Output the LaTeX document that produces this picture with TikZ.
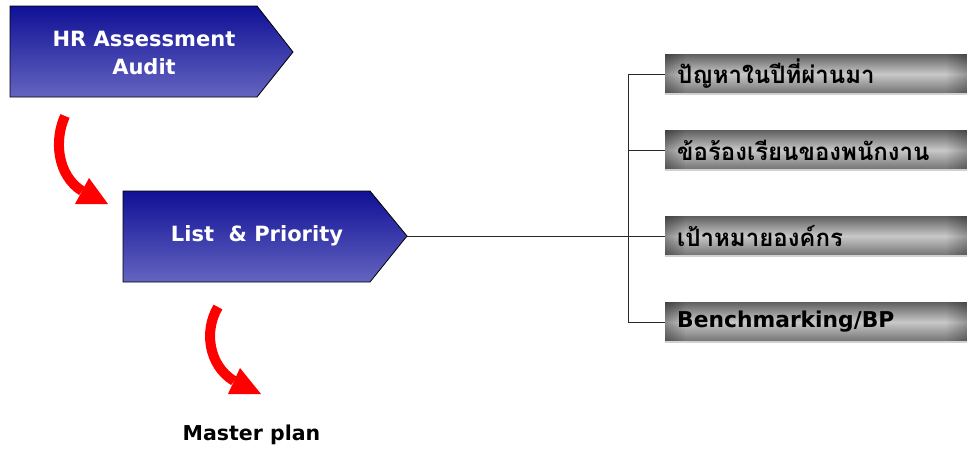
\documentclass[tikz,border=0pt]{standalone}
\usepackage{fontspec}
\setmainfont{DejaVu Sans}
\newfontfamily\thaifont[Script=Thai]{Loma}
\definecolor{navytop}{RGB}{16,16,150}
\definecolor{navybot}{RGB}{100,100,192}
\definecolor{redarr}{RGB}{255,0,0}
\definecolor{greytop}{RGB}{95,95,95}
\definecolor{greymid}{RGB}{200,200,200}
\definecolor{greybot}{RGB}{112,112,112}
\definecolor{connc}{RGB}{40,40,40}
\begin{document}
\begin{tikzpicture}[x=1pt,y=-1pt,
  bluebox/.style={draw=black, line width=0.8pt, top color=navytop, bottom color=navybot},
  bluetext/.style={text=white, font=\fontsize{21}{28}\selectfont\bfseries, align=center, inner sep=0pt},
  greybox/.style={rectangle, inner sep=0pt, inner xsep=12pt, minimum height=40pt, text width=278pt, align=left,
    top color=greytop, bottom color=greybot, middle color=greymid, anchor=west,
    font=\fontsize{21.8}{24}\selectfont\bfseries,
    path picture={
      \foreach \i in {0,...,9}{
        \pgfmathsetmacro\xa{2*\i}
        \pgfmathsetmacro\xb{2*\i+2}
        \pgfmathsetmacro\oa{0.30-0.03*\i}
        \pgfmathsetmacro\ob{0.24-0.024*\i}
        \fill[black, fill opacity=\oa]
          ([xshift=\xa pt]path picture bounding box.south west) rectangle
          ([xshift=\xb pt]path picture bounding box.north west);
        \fill[black, fill opacity=\ob]
          ([xshift=-\xa pt]path picture bounding box.south east) rectangle
          ([xshift=-\xb pt]path picture bounding box.north east);
      }
      \draw[white!82!black, line width=1.2pt] (path picture bounding box.south west) -- (path picture bounding box.south east);}},
  thai/.style={font=\fontsize{24}{26}\selectfont\bfseries\thaifont},
  conn/.style={draw=connc, line width=0.9pt},
  shaft/.style={draw=redarr, line width=10pt, line cap=butt},
  head/.style={fill=redarr}
]
\useasboundingbox (0,0) rectangle (967,451);

% blue boxes
\draw[bluebox] (10,6) -- (257,6) -- (293,52) -- (257,97) -- (10,97) -- cycle;
\node[bluetext] (hr) at (144,53) {HR Assessment\\Audit};
\draw[bluebox] (123,191) -- (370,191) -- (407,236) -- (370,282) -- (123,282) -- cycle;
\node[bluetext] (lp) at (257,236) {List \ \& Priority};
\coordinate (tip2) at (407,236);

% grey boxes
\node[greybox, thai] (g1) at (665,74) {ปัญหาในปีที่ผ่านมา};
\node[greybox, thai] (g2) at (665,150) {ข้อร้องเรียนของพนักงาน};
\node[greybox, thai] (g3) at (665,236) {เป้าหมายองค์กร};
\node[greybox] (g4) at (665,322) {Benchmarking/BP};

% connectors
\coordinate (trunk) at (628,236);
\draw[conn] (tip2) -- (g3.west);
\draw[conn] (g1.west) -| (trunk |- g4.west) -- (g4.west);
\draw[conn] (trunk |- g2.west) -- (g2.west);

% red arrows
\draw[shaft] (65,116) .. controls (54,140) and (57,175) .. (82,191);
\fill[head] (89,178) -- (108,204) -- (75,204) -- cycle;
\draw[shaft] (218,307) .. controls (204,330) and (208,365) .. (234,381);
\fill[head] (240,368) -- (261,394) -- (228,394) -- cycle;

% master plan
\node[font=\fontsize{20.5}{24}\selectfont\bfseries, inner sep=0pt] (mp) at (251.5,435) {Master plan};
\end{tikzpicture}
\end{document}
